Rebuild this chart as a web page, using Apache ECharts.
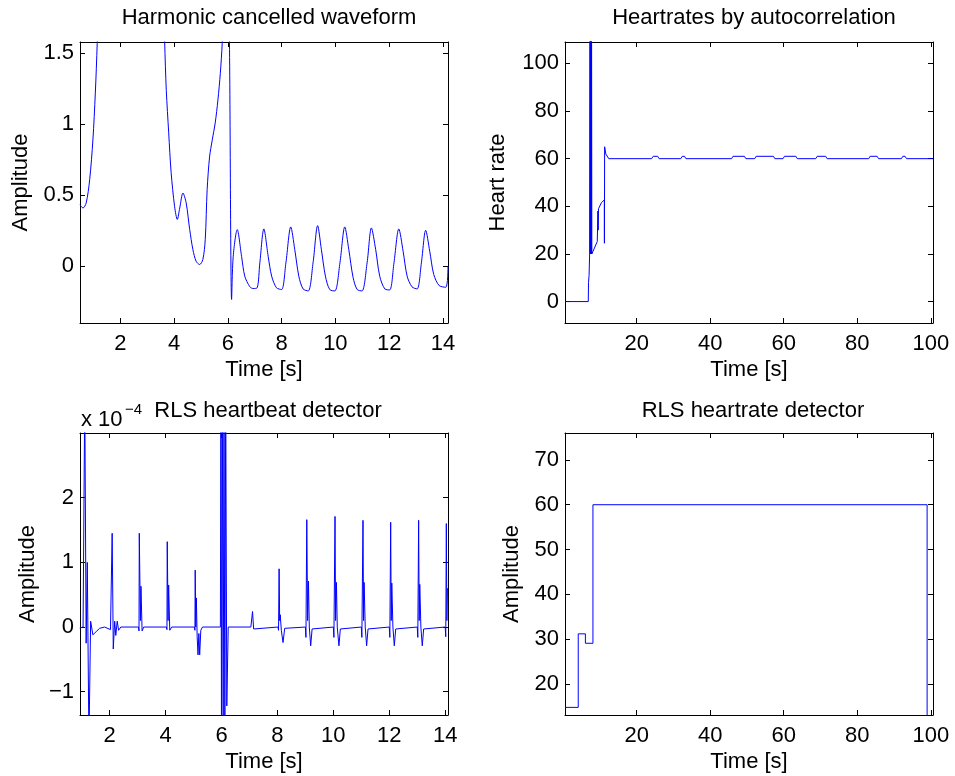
<!DOCTYPE html>
<html>
<head>
<meta charset="utf-8">
<script src="https://cdn.jsdelivr.net/npm/echarts@6/dist/echarts.min.js"></script>
<style>
  html, body { margin: 0; padding: 0; background: #fff; }
  #chart { width: 955px; height: 776px; }
</style>
</head>
<body>
<div id="chart"></div>
<script>
// top left: harmonic cancelled waveform (null = curve leaves the plot)
var tlTime = [0.5, 0.61, 0.73, 0.86, 0.98, 1.07, 1.14, 1.2, 2.4, 3.6, 3.65, 3.71, 3.8, 3.89, 4.02, 4.12, 4.21, 4.33, 4.45, 4.58,
  4.7, 4.82, 4.95, 5.07, 5.16, 5.23, 5.32, 5.42, 5.53, 5.63, 5.72, 5.79, 5.84, 5.95, 6.02, 6.06, 6.14, 6.2, 6.35, 6.51,
  6.63, 6.82, 6.94, 7.09, 7.19, 7.34, 7.5, 7.63, 7.81, 8.0, 8.16, 8.34, 8.49, 8.64, 8.8, 8.99, 9.17, 9.34, 9.48, 9.63,
  9.79, 9.98, 10.17, 10.35, 10.5, 10.66, 10.81, 10.99, 11.18, 11.34, 11.5, 11.65, 11.84, 12.02, 12.18, 12.36, 12.52, 12.67, 12.85, 13.04,
  13.2, 13.36, 13.51, 13.66, 13.86, 14.11, 14.19];
var tlAmp = [0.434, 0.41, 0.446, 0.61, 0.89, 1.22, 1.57, 2.0, null, 2.0, 1.58, 1.24, 0.94, 0.66, 0.42, 0.33, 0.41, 0.516, 0.446, 0.26,
  0.117, 0.035, 0.012, 0.047, 0.19, 0.54, 0.77, 0.89, 1.01, 1.17, 1.36, 1.57, 1.9, null, 1.9, 1.58, -0.234, 0.07, 0.258, 0.07,
  -0.07, -0.145, -0.157, -0.152, 0.024, 0.263, 0.07, -0.07, -0.152, -0.164, 0.024, 0.277, 0.117, -0.07, -0.16, -0.174, 0.024, 0.286, 0.117, -0.07,
  -0.164, -0.174, 0.024, 0.277, 0.117, -0.08, -0.164, -0.174, 0.024, 0.27, 0.117, -0.07, -0.16, -0.167, 0.024, 0.263, 0.106, -0.07, -0.145, -0.16,
  0.024, 0.253, 0.106, -0.058, -0.136, -0.148, 0.0];

// top right: heart rate by autocorrelation
var trTime = [0.5, 6.83, 6.9, 7.05, 7.2, 7.3, 7.38, 7.44, 7.52, 7.58, 7.66, 7.72, 7.8, 7.86, 9.28, 9.45, 9.52, 9.62, 10.4, 11.2,
  11.22, 11.28, 11.6, 12.4, 24.06, 24.5, 25.7, 26.1, 32.0, 32.4, 33.0, 33.4, 45.8, 46.2, 49.3, 49.7, 52.1, 52.5, 57.2, 57.6,
  59.8, 60.2, 63.3, 63.7, 68.7, 69.1, 71.4, 71.8, 83.1, 83.5, 85.4, 85.8, 92.0, 92.4, 93.0, 93.4, 100.6];
var trRate = [0, 0, 8, 11, 20, 130, 20, 130, 20, 130, 20, 130, 20, 20.3, 25.2, 38, 30, 39, 41.5, 42.7,
  24.5, 65, 62, 60, 60, 61, 61, 60, 60, 61, 61, 60, 60, 61, 61, 60, 60, 61, 61, 60,
  60, 61, 61, 60, 60, 61, 61, 60, 60, 61, 61, 60, 60, 61, 61, 60, 60];

// bottom left: RLS heartbeat detector, values in units of 1e-4
var blTime = [0.93, 1.05, 1.11, 1.16, 1.2, 1.26, 1.32, 1.4, 1.52, 1.64, 1.82, 2.03, 2.09, 2.13, 2.18, 2.22, 2.27, 2.32, 2.4,
  3.03, 3.05, 3.06, 3.08, 3.1, 3.12, 3.16, 3.22,
  4.03, 4.05, 4.06, 4.09, 4.11, 4.15, 4.22,
  5.03, 5.05, 5.06, 5.08, 5.1, 5.13, 5.16, 5.19, 5.22, 5.26, 5.32,
  5.96, 5.98, 6.0, 6.03, 6.06, 6.09, 6.12, 6.15, 6.19, 6.24,
  7.05, 7.11, 7.15, 7.22,
  8.02, 8.04, 8.06, 8.08, 8.1, 8.14, 8.2, 8.26, 8.3,
  9.0, 9.02, 9.05, 9.08, 9.11, 9.14, 9.19, 9.24, 9.3,
  10.0, 10.02, 10.06, 10.08, 10.11, 10.14, 10.2, 10.25, 10.3,
  11.0, 11.02, 11.06, 11.08, 11.1, 11.14, 11.19, 11.24, 11.3,
  12.0, 12.02, 12.05, 12.07, 12.09, 12.13, 12.18, 12.23, 12.3,
  13.0, 13.02, 13.05, 13.07, 13.09, 13.13, 13.18, 13.23, 13.3,
  14.0, 14.02, 14.04, 14.06, 14.08, 14.1];
var blAmp = [-0.015, 0, 3.6, -0.25, 1.0, -1.8, 0.09, -0.12, -0.07, -0.02, 0, -0.04, 1.45, -0.34, 0.09, -0.13, 0.09, -0.05, 0,
  0, -0.06, 1.45, 1.44, 0.1, 0.63, -0.06, 0,
  0, -0.04, 1.32, 0.1, 0.65, -0.05, 0,
  0, -0.05, 0.88, 0, 0.45, -0.15, -0.43, -0.1, -0.43, -0.05, 0,
  0, 3.6, -1.8, 3.6, -1.8, 3.6, -1.8, 3.6, -1.22, 0,
  0, 0.24, -0.03, 0,
  0, -0.05, 0.9, 0.1, 0.19, -0.05, -0.24, -0.02, 0,
  0, -0.16, 1.66, 0.1, 0.71, 0, -0.29, -0.03, 0,
  0, -0.16, 1.71, 0.1, 0.69, 0, -0.29, -0.03, 0,
  0, -0.16, 1.65, 0.1, 0.69, 0, -0.29, -0.03, 0,
  0, -0.16, 1.62, 0.1, 0.68, 0, -0.29, -0.03, 0,
  0, -0.16, 1.65, 0.1, 0.66, 0, -0.29, -0.03, 0,
  0, -0.15, 1.6, 0.1, 0.6, 0.6];

// bottom right: RLS heart rate (step)
var brTime = [0.5, 4.1, 6.05, 8.1, 99.0];
var brRate = [14.8, 31.2, 29.1, 60, 0];

// tick values
var tlXTicks = [2, 4, 6, 8, 10, 12, 14];
var tlYTicks = [0, 0.5, 1, 1.5];
var trXTicks = [20, 40, 60, 80, 100];
var trYTicks = [0, 20, 40, 60, 80, 100];
var blXTicks = [2, 4, 6, 8, 10, 12, 14];
var blYTicks = [-1, 0, 1, 2];
var brXTicks = [20, 40, 60, 80, 100];
var brYTicks = [20, 30, 40, 50, 60, 70];

var FONT = "'Liberation Sans', Arial, Helvetica, sans-serif";

function pairs(xs, ys) {
  return xs.map(function (x, i) { return [x, ys[i]]; });
}

function fmt(v) {
  return v < 0 ? "\u2212" + Math.abs(v) : String(v);
}

function xAxes(grid, min, max, ticks) {
  return [
    {
      type: "value", gridIndex: grid, min: min, max: max, position: "bottom",
      name: "Time [s]", nameLocation: "middle", nameGap: 36,
      nameTextStyle: { fontFamily: FONT, fontSize: 22, color: "#000" },
      axisLine: { onZero: false, lineStyle: { color: "#000", width: 1 } },
      axisTick: { inside: true, length: 5, customValues: ticks, lineStyle: { color: "#000" } },
      axisLabel: { customValues: ticks, formatter: fmt, fontFamily: FONT, fontSize: 22, color: "#000", margin: 10 },
      splitLine: { show: false }
    },
    {
      type: "value", gridIndex: grid, min: min, max: max, position: "top",
      axisLine: { onZero: false, lineStyle: { color: "#000", width: 1 } },
      axisTick: { inside: true, length: 5, customValues: ticks, lineStyle: { color: "#000" } },
      axisLabel: { show: false },
      splitLine: { show: false }
    }
  ];
}

function yAxes(grid, min, max, ticks, name, gap) {
  return [
    {
      type: "value", gridIndex: grid, min: min, max: max, position: "left",
      name: name, nameLocation: "middle", nameGap: gap,
      nameTextStyle: { fontFamily: FONT, fontSize: 22, color: "#000" },
      axisLine: { onZero: false, lineStyle: { color: "#000", width: 1 } },
      axisTick: { inside: true, length: 5, customValues: ticks, lineStyle: { color: "#000" } },
      axisLabel: { customValues: ticks, formatter: fmt, fontFamily: FONT, fontSize: 22, color: "#000", margin: 6 },
      splitLine: { show: false }
    },
    {
      type: "value", gridIndex: grid, min: min, max: max, position: "right",
      axisLine: { onZero: false, lineStyle: { color: "#000", width: 1 } },
      axisTick: { inside: true, length: 5, customValues: ticks, lineStyle: { color: "#000" } },
      axisLabel: { show: false },
      splitLine: { show: false }
    }
  ];
}

var titleStyle = { fontFamily: FONT, fontSize: 22, fontWeight: "normal", color: "#000" };

var chart = echarts.init(document.getElementById("chart"), null, { renderer: "canvas" });

var option = {
  backgroundColor: "#fff",
  animation: false,
  title: [
    { text: "Harmonic cancelled waveform", left: 264, top: 2, textAlign: "center", textStyle: titleStyle },
    { text: "Heartrates by autocorrelation", left: 749, top: 2, textAlign: "center", textStyle: titleStyle },
    { text: "RLS heartbeat detector", left: 263, top: 395, textAlign: "center", textStyle: titleStyle },
    { text: "RLS heartrate detector", left: 748, top: 395, textAlign: "center", textStyle: titleStyle },
    { text: "x 10", left: 76, top: 404, textStyle: titleStyle },
    { text: "\u22124", left: 120, top: 397, textStyle: { fontFamily: FONT, fontSize: 15, fontWeight: "normal", color: "#000" } }
  ],
  grid: [
    { left: 80, top: 42, width: 368, height: 281 },
    { left: 565, top: 42, width: 368, height: 281 },
    { left: 80, top: 433, width: 368, height: 282 },
    { left: 565, top: 433, width: 368, height: 282 }
  ],
  xAxis: [].concat(
    xAxes(0, 0.5, 14.19, tlXTicks),
    xAxes(1, 0.5, 100.6, trXTicks),
    xAxes(2, 0.94, 14.1, blXTicks),
    xAxes(3, 0.5, 100.6, brXTicks)
  ),
  yAxis: [].concat(
    yAxes(0, -0.4, 1.58, tlYTicks, "Amplitude", 48),
    yAxes(1, -9, 109, trYTicks, "Heart rate", 56),
    yAxes(2, -1.36, 3.0, blYTicks, "Amplitude", 41),
    yAxes(3, 13.1, 76, brYTicks, "Amplitude", 42)
  ),
  series: [
    {
      type: "line", xAxisIndex: 0, yAxisIndex: 0, data: pairs(tlTime, tlAmp),
      smooth: 0.3, showSymbol: false, connectNulls: false,
      lineStyle: { color: "#0000ff", width: 1 }, itemStyle: { color: "#0000ff" }
    },
    {
      type: "line", xAxisIndex: 2, yAxisIndex: 2, data: pairs(trTime, trRate),
      showSymbol: false, lineStyle: { color: "#0000ff", width: 1 }, itemStyle: { color: "#0000ff" }
    },
    {
      type: "line", xAxisIndex: 4, yAxisIndex: 4, data: pairs(blTime, blAmp),
      showSymbol: false, lineStyle: { color: "#0000ff", width: 1 }, itemStyle: { color: "#0000ff" }
    },
    {
      type: "line", xAxisIndex: 6, yAxisIndex: 6, data: pairs(brTime, brRate),
      step: "end", showSymbol: false, lineStyle: { color: "#0000ff", width: 1 }, itemStyle: { color: "#0000ff" }
    }
  ]
};

chart.setOption(option);
</script>
</body>
</html>
